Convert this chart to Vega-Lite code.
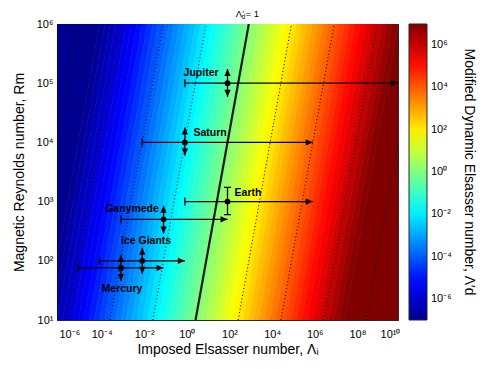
{
"$schema":"https://vega.github.io/schema/vega-lite/v6.json",
"width":341,"height":296,
"autosize":"none",
"padding":{"left":57,"top":24,"right":89,"bottom":49},
"background":"#ffffff",
"config":{
 "font":"Liberation Sans",
 "view":{"stroke":null},
 "axis":{"grid":false,"domain":true,"domainColor":"#262626","domainWidth":1,"tickColor":"#262626","tickSize":-4,"tickWidth":1,"labelColor":"#000000","labelFontSize":11,"titleFontSize":14,"titleFontWeight":"normal","titleColor":"#000000","zindex":1}
},
"datasets":{
 "bands":[
  {"c":-7,"y":1,"x":-10,"x2":-6.5},{"c":-7,"y":6,"x":-10,"x2":-4},
  {"c":-6.875,"y":1,"x":-6.5,"x2":-6.25},{"c":-6.875,"y":6,"x":-4,"x2":-3.75},
  {"c":-6.625,"y":1,"x":-6.25,"x2":-6},{"c":-6.625,"y":6,"x":-3.75,"x2":-3.5},
  {"c":-6.375,"y":1,"x":-6,"x2":-5.75},{"c":-6.375,"y":6,"x":-3.5,"x2":-3.25},
  {"c":-6.125,"y":1,"x":-5.75,"x2":-5.5},{"c":-6.125,"y":6,"x":-3.25,"x2":-3},
  {"c":-5.875,"y":1,"x":-5.5,"x2":-5.25},{"c":-5.875,"y":6,"x":-3,"x2":-2.75},
  {"c":-5.625,"y":1,"x":-5.25,"x2":-5},{"c":-5.625,"y":6,"x":-2.75,"x2":-2.5},
  {"c":-5.375,"y":1,"x":-5,"x2":-4.75},{"c":-5.375,"y":6,"x":-2.5,"x2":-2.25},
  {"c":-5.125,"y":1,"x":-4.75,"x2":-4.5},{"c":-5.125,"y":6,"x":-2.25,"x2":-2},
  {"c":-4.875,"y":1,"x":-4.5,"x2":-4.25},{"c":-4.875,"y":6,"x":-2,"x2":-1.75},
  {"c":-4.625,"y":1,"x":-4.25,"x2":-4},{"c":-4.625,"y":6,"x":-1.75,"x2":-1.5},
  {"c":-4.375,"y":1,"x":-4,"x2":-3.75},{"c":-4.375,"y":6,"x":-1.5,"x2":-1.25},
  {"c":-4.125,"y":1,"x":-3.75,"x2":-3.5},{"c":-4.125,"y":6,"x":-1.25,"x2":-1},
  {"c":-3.875,"y":1,"x":-3.5,"x2":-3.25},{"c":-3.875,"y":6,"x":-1,"x2":-0.75},
  {"c":-3.625,"y":1,"x":-3.25,"x2":-3},{"c":-3.625,"y":6,"x":-0.75,"x2":-0.5},
  {"c":-3.375,"y":1,"x":-3,"x2":-2.75},{"c":-3.375,"y":6,"x":-0.5,"x2":-0.25},
  {"c":-3.125,"y":1,"x":-2.75,"x2":-2.5},{"c":-3.125,"y":6,"x":-0.25,"x2":0},
  {"c":-2.875,"y":1,"x":-2.5,"x2":-2.25},{"c":-2.875,"y":6,"x":0,"x2":0.25},
  {"c":-2.625,"y":1,"x":-2.25,"x2":-2},{"c":-2.625,"y":6,"x":0.25,"x2":0.5},
  {"c":-2.375,"y":1,"x":-2,"x2":-1.75},{"c":-2.375,"y":6,"x":0.5,"x2":0.75},
  {"c":-2.125,"y":1,"x":-1.75,"x2":-1.5},{"c":-2.125,"y":6,"x":0.75,"x2":1},
  {"c":-1.875,"y":1,"x":-1.5,"x2":-1.25},{"c":-1.875,"y":6,"x":1,"x2":1.25},
  {"c":-1.625,"y":1,"x":-1.25,"x2":-1},{"c":-1.625,"y":6,"x":1.25,"x2":1.5},
  {"c":-1.375,"y":1,"x":-1,"x2":-0.75},{"c":-1.375,"y":6,"x":1.5,"x2":1.75},
  {"c":-1.125,"y":1,"x":-0.75,"x2":-0.5},{"c":-1.125,"y":6,"x":1.75,"x2":2},
  {"c":-0.875,"y":1,"x":-0.5,"x2":-0.25},{"c":-0.875,"y":6,"x":2,"x2":2.25},
  {"c":-0.625,"y":1,"x":-0.25,"x2":0},{"c":-0.625,"y":6,"x":2.25,"x2":2.5},
  {"c":-0.375,"y":1,"x":0,"x2":0.25},{"c":-0.375,"y":6,"x":2.5,"x2":2.75},
  {"c":-0.125,"y":1,"x":0.25,"x2":0.5},{"c":-0.125,"y":6,"x":2.75,"x2":3},
  {"c":0.125,"y":1,"x":0.5,"x2":0.75},{"c":0.125,"y":6,"x":3,"x2":3.25},
  {"c":0.375,"y":1,"x":0.75,"x2":1},{"c":0.375,"y":6,"x":3.25,"x2":3.5},
  {"c":0.625,"y":1,"x":1,"x2":1.25},{"c":0.625,"y":6,"x":3.5,"x2":3.75},
  {"c":0.875,"y":1,"x":1.25,"x2":1.5},{"c":0.875,"y":6,"x":3.75,"x2":4},
  {"c":1.125,"y":1,"x":1.5,"x2":1.75},{"c":1.125,"y":6,"x":4,"x2":4.25},
  {"c":1.375,"y":1,"x":1.75,"x2":2},{"c":1.375,"y":6,"x":4.25,"x2":4.5},
  {"c":1.625,"y":1,"x":2,"x2":2.25},{"c":1.625,"y":6,"x":4.5,"x2":4.75},
  {"c":1.875,"y":1,"x":2.25,"x2":2.5},{"c":1.875,"y":6,"x":4.75,"x2":5},
  {"c":2.125,"y":1,"x":2.5,"x2":2.75},{"c":2.125,"y":6,"x":5,"x2":5.25},
  {"c":2.375,"y":1,"x":2.75,"x2":3},{"c":2.375,"y":6,"x":5.25,"x2":5.5},
  {"c":2.625,"y":1,"x":3,"x2":3.25},{"c":2.625,"y":6,"x":5.5,"x2":5.75},
  {"c":2.875,"y":1,"x":3.25,"x2":3.5},{"c":2.875,"y":6,"x":5.75,"x2":6},
  {"c":3.125,"y":1,"x":3.5,"x2":3.75},{"c":3.125,"y":6,"x":6,"x2":6.25},
  {"c":3.375,"y":1,"x":3.75,"x2":4},{"c":3.375,"y":6,"x":6.25,"x2":6.5},
  {"c":3.625,"y":1,"x":4,"x2":4.25},{"c":3.625,"y":6,"x":6.5,"x2":6.75},
  {"c":3.875,"y":1,"x":4.25,"x2":4.5},{"c":3.875,"y":6,"x":6.75,"x2":7},
  {"c":4.125,"y":1,"x":4.5,"x2":4.75},{"c":4.125,"y":6,"x":7,"x2":7.25},
  {"c":4.375,"y":1,"x":4.75,"x2":5},{"c":4.375,"y":6,"x":7.25,"x2":7.5},
  {"c":4.625,"y":1,"x":5,"x2":5.25},{"c":4.625,"y":6,"x":7.5,"x2":7.75},
  {"c":4.875,"y":1,"x":5.25,"x2":5.5},{"c":4.875,"y":6,"x":7.75,"x2":8},
  {"c":5.125,"y":1,"x":5.5,"x2":5.75},{"c":5.125,"y":6,"x":8,"x2":8.25},
  {"c":5.375,"y":1,"x":5.75,"x2":6},{"c":5.375,"y":6,"x":8.25,"x2":8.5},
  {"c":5.625,"y":1,"x":6,"x2":6.25},{"c":5.625,"y":6,"x":8.5,"x2":8.75},
  {"c":5.875,"y":1,"x":6.25,"x2":6.5},{"c":5.875,"y":6,"x":8.75,"x2":9},
  {"c":6.125,"y":1,"x":6.5,"x2":6.75},{"c":6.125,"y":6,"x":9,"x2":9.25},
  {"c":6.375,"y":1,"x":6.75,"x2":7},{"c":6.375,"y":6,"x":9.25,"x2":9.5},
  {"c":6.625,"y":1,"x":7,"x2":7.25},{"c":6.625,"y":6,"x":9.5,"x2":9.75},
  {"c":6.875,"y":1,"x":7.25,"x2":7.5},{"c":6.875,"y":6,"x":9.75,"x2":10},
  {"c":7,"y":1,"x":7.5,"x2":13},{"c":7,"y":6,"x":10,"x2":13}
 ],
 "iso":[
  {"v":-8,"y":1,"x":-7.5},{"v":-8,"y":6,"x":-5},
  {"v":-6,"y":1,"x":-5.5},{"v":-6,"y":6,"x":-3},
  {"v":-4,"y":1,"x":-3.5},{"v":-4,"y":6,"x":-1},
  {"v":-2,"y":1,"x":-1.5},{"v":-2,"y":6,"x":1},
  {"v":2,"y":1,"x":2.5},{"v":2,"y":6,"x":5},
  {"v":4,"y":1,"x":4.5},{"v":4,"y":6,"x":7},
  {"v":6,"y":1,"x":6.5},{"v":6,"y":6,"x":9},
  {"v":8,"y":1,"x":8.5},{"v":8,"y":6,"x":11}
 ],
 "main":[{"v":0,"y":1,"x":0.5},{"v":0,"y":6,"x":3}],
 "planets":[
  {"n":"Jupiter","x":2,"y":5,"xlo":0,"xhi":10,"ylo":4.77,"yhi":5.24,"k":"a","lx":0.76,"ly":5.17},
  {"n":"Saturn","x":0,"y":4,"xlo":-2,"xhi":6,"ylo":3.78,"yhi":4.25,"k":"a","lx":1.18,"ly":4.16},
  {"n":"Earth","x":2,"y":3,"xlo":0,"xhi":6,"ylo":2.78,"yhi":3.24,"k":"b","lx":2.96,"ly":3.15},
  {"n":"Ganymede","x":-1,"y":2.7,"xlo":-3,"xhi":2,"ylo":2.46,"yhi":2.93,"k":"a","lx":-2.48,"ly":2.875},
  {"n":"Ice Giants","x":-2,"y":2,"xlo":-4,"xhi":0,"ylo":1.78,"yhi":2.22,"k":"a","lx":-1.82,"ly":2.34},
  {"n":"Mercury","x":-3,"y":1.88,"xlo":-5,"xhi":-1,"ylo":1.66,"yhi":2.1,"k":"a","lx":-2.95,"ly":1.52}
 ],
 "anchor":[{"x":3,"y":6}]
},
"layer":[
 {"data":{"name":"bands"},
  "mark":{"type":"area","orient":"horizontal","clip":true,"strokeWidth":0.6},
  "encoding":{
   "y":{"field":"y","type":"quantitative","scale":{"domain":[1,6],"nice":false,"zero":false},
        "axis":{"orient":"left","values":[1,1.5,2,2.5,3,3.5,4,4.5,5,5.5,6],"labelExpr":"datum.value % 1 != 0 ? '' : '10' + ['⁰','¹','²','³','⁴','⁵','⁶'][datum.value]","labelPadding":8,"title":"Magnetic Reynolds number, Rm","titlePadding":10}},
   "x":{"field":"x","type":"quantitative","stack":null,"scale":{"domain":[-6,10],"nice":false,"zero":false},
        "axis":{"orient":"bottom","values":[-6,-4,-2,0,2,4,6,8,10],"labelExpr":"'10' + (datum.value < 0 ? '⁻' : '') + (abs(datum.value) == 10 ? '¹⁰' : ['⁰','¹','²','³','⁴','⁵','⁶','⁷','⁸','⁹'][abs(datum.value)])","labelOffset":2,"labelPadding":12,"title":"Imposed Elsasser number, Λᵢ","titlePadding":3}},
   "x2":{"field":"x2"},
   "color":{"field":"c","type":"quantitative",
     "scale":{"type":"linear","domain":[-7,-5.25,-1.75,1.75,5.25,7],"range":["#00008f","#0000ff","#00ffff","#ffff00","#ff0000","#800000"],"interpolate":"rgb","clamp":true},
     "legend":{"type":"gradient","direction":"vertical","title":"Modified Dynamic Elsasser number, Λ′d","orient":"right","offset":10,"padding":0,"values":[-6,-4,-2,0,2,4,6],
       "labelExpr":"'10' + (datum.value < 0 ? '⁻' : '') + ['⁰','¹','²','³','⁴','⁵','⁶','⁷','⁸','⁹'][abs(datum.value)]",
       "gradientLength":296,"gradientThickness":18,"gradientStrokeColor":"#262626","gradientStrokeWidth":1,
       "labelFontSize":11,"labelColor":"#000000","labelOffset":4,"labelOverlap":false,
       "titleOrient":"right","titleAngle":90,"titleAnchor":"middle","titleLimit":400,"titleFontSize":14,"titleFontWeight":"normal","titleColor":"#000000","titlePadding":10}},
   "stroke":{"field":"c","type":"quantitative",
     "scale":{"type":"linear","domain":[-7.001,-5.25,-1.75,1.75,5.25,7.001],"range":["#00008f","#0000ff","#00ffff","#ffff00","#ff0000","#800000"],"interpolate":"rgb","clamp":true},
     "legend":null}
  }},
 {"data":{"name":"iso"},
  "mark":{"type":"line","clip":true,"color":"#000000","strokeWidth":1,"strokeDash":[1,2.5]},
  "encoding":{
   "x":{"field":"x","type":"quantitative","scale":{"domain":[-6,10],"nice":false,"zero":false},"axis":{"orient":"top","values":[-6,-4,-2,0,2,4,6,8,10],"labels":false,"title":null}},
   "y":{"field":"y","type":"quantitative","scale":{"domain":[1,6],"nice":false,"zero":false},"axis":{"orient":"right","values":[1,1.5,2,2.5,3,3.5,4,4.5,5,5.5,6],"labels":false,"title":null}},
   "detail":{"field":"v","type":"nominal"}
  }},
 {"data":{"name":"main"},
  "mark":{"type":"line","clip":true,"color":"#1a1a1a","strokeWidth":2.2},
  "encoding":{
   "x":{"field":"x","type":"quantitative","scale":{"domain":[-6,10],"nice":false,"zero":false},"axis":null},
   "y":{"field":"y","type":"quantitative","scale":{"domain":[1,6],"nice":false,"zero":false},"axis":null}
  }},
 {"data":{"name":"planets"},
  "mark":{"type":"rule","color":"#000000","strokeWidth":1.3},
  "encoding":{
   "x":{"field":"xlo","type":"quantitative","axis":null},"x2":{"field":"xhi"},
   "y":{"field":"y","type":"quantitative","axis":null}
  }},
 {"data":{"name":"planets"},
  "mark":{"type":"tick","orient":"vertical","size":8,"thickness":1.3,"color":"#000000","opacity":1},
  "encoding":{
   "x":{"field":"xlo","type":"quantitative","axis":null},
   "y":{"field":"y","type":"quantitative","axis":null}
  }},
 {"data":{"name":"planets"},
  "mark":{"type":"point","shape":"M0,0L-1,-0.45L-1,0.45Z","size":196,"filled":true,"color":"#000000","opacity":1},
  "encoding":{
   "x":{"field":"xhi","type":"quantitative","axis":null},
   "y":{"field":"y","type":"quantitative","axis":null}
  }},
 {"data":{"name":"planets"},
  "mark":{"type":"rule","color":"#000000","strokeWidth":1.3},
  "encoding":{
   "x":{"field":"x","type":"quantitative","axis":null},
   "y":{"field":"ylo","type":"quantitative","axis":null},"y2":{"field":"yhi"}
  }},
 {"data":{"name":"planets"},
  "transform":[{"filter":"datum.k == 'a'"}],
  "mark":{"type":"point","shape":"M0,0L-0.45,1L0.45,1Z","size":196,"filled":true,"color":"#000000","opacity":1},
  "encoding":{
   "x":{"field":"x","type":"quantitative","axis":null},
   "y":{"field":"yhi","type":"quantitative","axis":null}
  }},
 {"data":{"name":"planets"},
  "transform":[{"filter":"datum.k == 'a'"}],
  "mark":{"type":"point","shape":"M0,0L-0.45,-1L0.45,-1Z","size":196,"filled":true,"color":"#000000","opacity":1},
  "encoding":{
   "x":{"field":"x","type":"quantitative","axis":null},
   "y":{"field":"ylo","type":"quantitative","axis":null}
  }},
 {"data":{"name":"planets"},
  "transform":[{"filter":"datum.k == 'b'"}],
  "mark":{"type":"tick","orient":"horizontal","size":7,"thickness":1.3,"color":"#000000","opacity":1},
  "encoding":{
   "x":{"field":"x","type":"quantitative","axis":null},
   "y":{"field":"yhi","type":"quantitative","axis":null}
  }},
 {"data":{"name":"planets"},
  "transform":[{"filter":"datum.k == 'b'"}],
  "mark":{"type":"tick","orient":"horizontal","size":7,"thickness":1.3,"color":"#000000","opacity":1},
  "encoding":{
   "x":{"field":"x","type":"quantitative","axis":null},
   "y":{"field":"ylo","type":"quantitative","axis":null}
  }},
 {"data":{"name":"planets"},
  "mark":{"type":"point","shape":"circle","size":34,"filled":true,"color":"#000000","opacity":1},
  "encoding":{
   "x":{"field":"x","type":"quantitative","axis":null},
   "y":{"field":"y","type":"quantitative","axis":null}
  }},
 {"data":{"name":"planets"},
  "mark":{"type":"text","fontWeight":"bold","fontSize":10.5,"color":"#000000","align":"center","baseline":"middle"},
  "encoding":{
   "x":{"field":"lx","type":"quantitative","axis":null},
   "y":{"field":"ly","type":"quantitative","axis":null},
   "text":{"field":"n"}
  }},
 {"data":{"name":"anchor"},
  "mark":{"type":"text","text":"Λ","fontSize":9.5,"color":"#000000","align":"center","baseline":"alphabetic","dx":-10,"dy":-7.3},
  "encoding":{"x":{"field":"x","type":"quantitative","axis":null},"y":{"field":"y","type":"quantitative","axis":null}}},
 {"data":{"name":"anchor"},
  "mark":{"type":"text","text":"d","fontSize":6.5,"color":"#000000","align":"center","baseline":"alphabetic","dx":-5.5,"dy":-5.3},
  "encoding":{"x":{"field":"x","type":"quantitative","axis":null},"y":{"field":"y","type":"quantitative","axis":null}}},
 {"data":{"name":"anchor"},
  "mark":{"type":"text","text":"′","fontSize":8,"color":"#000000","align":"center","baseline":"alphabetic","dx":-5.5,"dy":-8.5},
  "encoding":{"x":{"field":"x","type":"quantitative","axis":null},"y":{"field":"y","type":"quantitative","axis":null}}},
 {"data":{"name":"anchor"},
  "mark":{"type":"text","text":"= 1","fontSize":9.5,"color":"#000000","align":"left","baseline":"alphabetic","dx":-3.3,"dy":-7.3},
  "encoding":{"x":{"field":"x","type":"quantitative","axis":null},"y":{"field":"y","type":"quantitative","axis":null}}}
],
"resolve":{"axis":{"x":"independent","y":"independent"}}
}
